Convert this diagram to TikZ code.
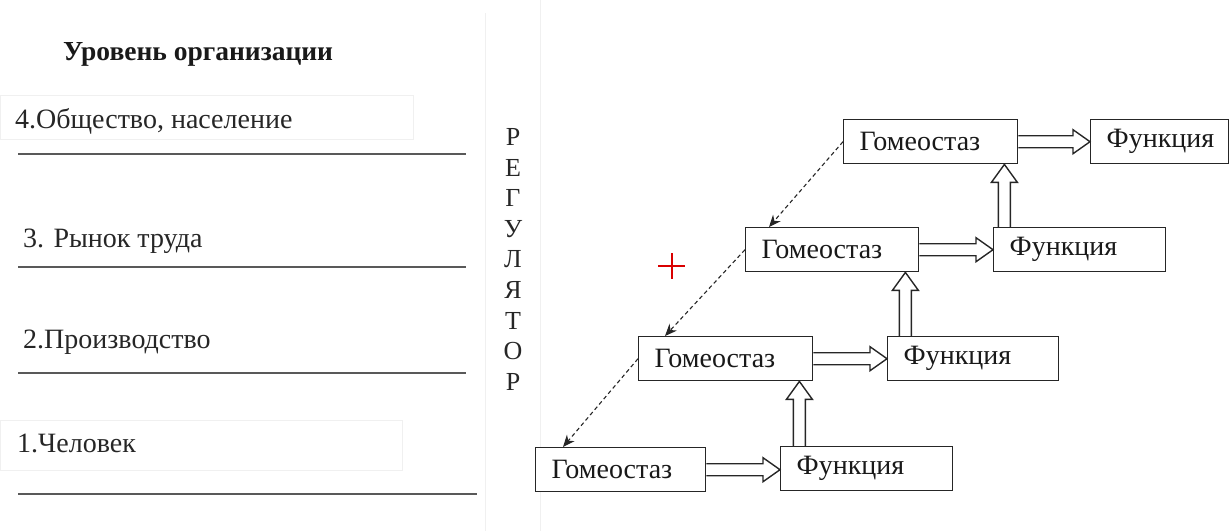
\documentclass[tikz,border=0pt]{standalone}
\usepackage{fontspec}
\setmainfont{Liberation Serif}
\usetikzlibrary{arrows.meta,calc}
\newcommand\hollowH[2]{%
  \draw[hollow] let \p1=(#1.east), \p2=(#2.west) in
    (\x1,\y1+6pt) -- (\x2-17pt,\y1+6pt) -- (\x2-17pt,\y1+12pt) -- (\x2,\y1)
    -- (\x2-17pt,\y1-12pt) -- (\x2-17pt,\y1-6pt) -- (\x1,\y1-6pt);}
\newcommand\hollowV[2]{%
  \draw[hollow] let \p1=(#2.south east), \p2=(#1.north) in
    (\x1-14pt-6pt,\y2) -- (\x1-14pt-6pt,\y1-18pt) -- (\x1-14pt-13pt,\y1-18pt) -- (\x1-14pt,\y1)
    -- (\x1-14pt+13pt,\y1-18pt) -- (\x1-14pt+6pt,\y1-18pt) -- (\x1-14pt+6pt,\y2);}
\begin{document}
\begin{tikzpicture}[x=1pt,y=-1pt,
  box/.style={draw=black!85, line width=1.4pt, fill=white, anchor=north west,
    inner xsep=16pt, inner ysep=0pt, minimum height=44pt, text width=#1,
    align=left, font=\fontsize{28}{32}\selectfont, text=black!90},
  hollow/.style={draw=black!85, line width=1.4pt, line join=miter},
  fb/.style={draw=black!85, line width=1.1pt, dash pattern=on 4pt off 3pt,
    -{Stealth[length=12pt,width=10pt]}},
  lvl/.style={anchor=base west, font=\fontsize{28}{32}\selectfont, text=black!85, inner sep=0pt},
  rulel/.style={draw=black!65, line width=2pt},
  faint/.style={draw=black!6, line width=1pt},
  regl/.style={anchor=center, font=\fontsize{26}{30}\selectfont, text=black!85, inner sep=0pt}
]
\useasboundingbox (0,0) rectangle (1231,531);
% faint artefacts
\draw[faint] (0,95) rectangle (413,139);
\draw[faint] (0,420) rectangle (402,470);
\draw[faint] (485,13) -- (485,531);
\draw[faint] (540,0) -- (540,531);
% left column
\node[lvl, font=\bfseries\fontsize{27.5}{32}\selectfont, text=black!90] (title) at (63,60) {Уровень организации};
\node[lvl] (l4) at (15,128) {4.Общество, население};
\node[lvl] (l3) at (23,247) {3. Рынок труда};
\node[lvl] (l2) at (23,348) {2.Производство};
\node[lvl] (l1) at (17,452) {1.Человек};
\draw[rulel] (18,154) -- (466,154);
\draw[rulel] (18,267) -- (466,267);
\draw[rulel] (18,373) -- (466,373);
\draw[rulel] (18,494) -- (477,494);
% regulator
\foreach \ch [count=\i from 0] in {Р,Е,Г,У,Л,Я,Т,О,Р}
  \node[regl] (r\i) at (513,137+30.6*\i) {\ch};
% plus
\draw[red!85!black, line width=2pt] (658,266) -- (685,266) (672,253) -- (672,279);
% boxes
\node[box=142pt] (g4) at (843,119) {Гомеостаз};
\node[box=106pt] (f4) at (1090,119) {Функция};
\node[box=141pt] (g3) at (745,227) {Гомеостаз};
\node[box=140pt] (f3) at (993,227) {Функция};
\node[box=142pt] (g2) at (638,336) {Гомеостаз};
\node[box=139pt] (f2) at (887,336) {Функция};
\node[box=138pt] (g1) at (535,447) {Гомеостаз};
\node[box=140pt] (f1) at (780,446) {Функция};
% hollow arrows
\hollowH{g4}{f4}
\hollowH{g3}{f3}
\hollowH{g2}{f2}
\hollowH{g1}{f1}
\hollowV{f1}{g2}
\hollowV{f2}{g3}
\hollowV{f3}{g4}
% dashed arrows
\draw[fb] (g4.west) -- ($(g3.north west)+(24,0)$);
\draw[fb] (g3.west) -- ($(g2.north west)+(27,0)$);
\draw[fb] (g2.west) -- ($(g1.north west)+(28,0)$);
\end{tikzpicture}
\end{document}
